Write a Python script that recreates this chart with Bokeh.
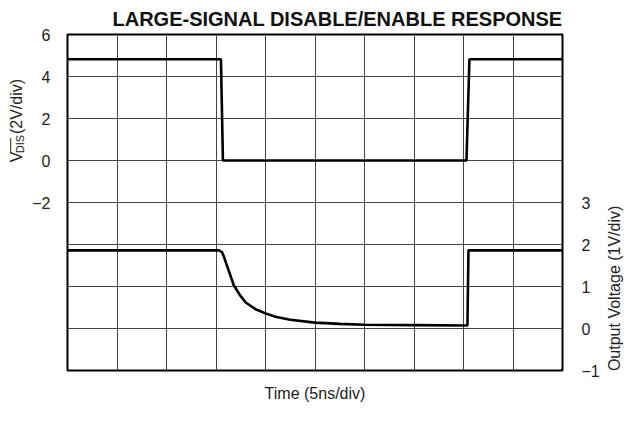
import math
from bokeh.plotting import figure
from bokeh.layouts import row
from bokeh.models import Range1d, LinearAxis, FixedTicker, Label, Arrow
from bokeh.embed import file_html
from bokeh.resources import INLINE

# ---- texts ----
title_text = "LARGE-SIGNAL DISABLE/ENABLE RESPONSE"
x_title = "Time (5ns/div)"
left_title_main = "V"
left_title_sub = "DIS"
left_title_rest = "(2V/div)"
right_title = "Output Voltage (1V/div)"

# ---- axes (time in ns, 5 ns/div, 10 divisions) ----
time_grid = [0, 5, 10, 15, 20, 25, 30, 35, 40, 45, 50]
left_grid = [-10, -8, -6, -4, -2, 0, 2, 4, 6]
left_ticks = [6, 4, 2, 0, -2]
right_ticks = [3, 2, 1, 0, -1]

# ---- data: disable signal (left axis, V) ----
dis_t = [0.0, 15.5, 15.7, 40.3, 40.6, 50.0]
dis_v = [4.82, 4.82, 0.0, 0.0, 4.82, 4.82]

# ---- data: output voltage (right axis, V) ----
out_t = [0.0, 15.3, 15.6, 15.8, 16.0, 16.4, 16.8, 17.4, 18.0, 19.0, 20.0,
         21.0, 22.5, 25.0, 27.5, 30.0, 35.0, 40.4, 40.5, 50.0]
out_v = [1.86, 1.86, 1.82, 1.71, 1.57, 1.30, 1.03, 0.80, 0.62, 0.46, 0.36,
         0.28, 0.21, 0.14, 0.11, 0.09, 0.08, 0.07, 1.86, 1.86]

FONT = "Liberation Sans"
TXT = "#222222"
H = 405
LEFT_W, RIGHT_W = 27, 23
MAIN_W = 625 - LEFT_W - RIGHT_W

p = figure(width=MAIN_W, height=H, x_range=Range1d(0, 50), y_range=Range1d(-10, 6),
           output_backend="svg", toolbar_location=None,
           min_border_left=40, min_border_right=MAIN_W - 40 - 495,
           min_border_top=34, min_border_bottom=35)
p.extra_y_ranges = {"out": Range1d(-1, 7)}

p.title.text = title_text
p.title.align = "left"
p.title.offset = 45
p.title.standoff = 9
p.title.text_font = FONT
p.title.text_font_size = "20px"
p.title.text_font_style = "bold"
p.title.text_color = "#111111"

p.outline_line_color = "black"
p.outline_line_width = 2
p.outline_line_alpha = 1
p.background_fill_color = "white"
p.border_fill_color = "white"

xa = p.xaxis[0]
xa.ticker = FixedTicker(ticks=[])
xa.axis_line_color = None
xa.major_tick_line_color = None
xa.minor_tick_line_color = None
xa.major_tick_out = 0
xa.major_label_standoff = 0
xa.axis_label = x_title
xa.axis_label_standoff = 14
xa.axis_label_text_font = FONT
xa.axis_label_text_font_size = "16px"
xa.axis_label_text_font_style = "normal"
xa.axis_label_text_color = TXT

p.xgrid.ticker = FixedTicker(ticks=time_grid)
p.ygrid.ticker = FixedTicker(ticks=left_grid)
for g in (p.xgrid, p.ygrid):
    g.grid_line_color = "#444444"
    g.grid_line_width = 1
    g.grid_line_alpha = 1

def style_axis(ax, ticks, standoff):
    ax.ticker = FixedTicker(ticks=ticks)
    ax.major_label_overrides = {t: ("\u2212" + str(abs(t)) if t < 0 else str(t)) for t in ticks}
    ax.axis_line_color = None
    ax.major_tick_line_color = None
    ax.minor_tick_line_color = None
    ax.major_tick_out = 0
    ax.major_tick_in = 0
    ax.major_label_standoff = standoff
    ax.major_label_text_font = FONT
    ax.major_label_text_font_size = "16px"
    ax.major_label_text_color = TXT

style_axis(p.yaxis[0], left_ticks, 17)
rax = LinearAxis(y_range_name="out")
style_axis(rax, right_ticks, 19)
p.add_layout(rax, "right")

p.line(dis_t, dis_v, line_color="black", line_width=2.6)
p.line(out_t, out_v, y_range_name="out", line_color="black", line_width=2.6)

# ---- side strips for the rotated axis titles (pixel coordinates, y up) ----
def strip(w):
    s = figure(width=w, height=H, x_range=Range1d(0, w), y_range=Range1d(0, H),
               x_axis_type=None, y_axis_type=None, output_backend="svg",
               toolbar_location=None, min_border=0)
    s.outline_line_color = None
    s.grid.visible = False
    s.background_fill_color = "white"
    s.border_fill_color = "white"
    return s

ls = strip(LEFT_W)
base = 16      # baseline position of "V"
y0 = H - 154   # bottom end of the title
ls.add_layout(Label(x=base, y=y0, text=left_title_main, text_font=FONT, text_font_size="16px",
                    text_color=TXT, angle=math.pi / 2, text_align="left",
                    text_baseline="alphabetic"))
ls.add_layout(Label(x=base + 3.5, y=y0 + 10.8, text=left_title_sub, text_font=FONT,
                    text_font_size="11px", text_color=TXT, angle=math.pi / 2,
                    text_align="left", text_baseline="alphabetic"))
ls.add_layout(Arrow(x_start=base - 5.8, y_start=y0 + 11.2, x_end=base - 5.8, y_end=y0 + 29.2,
                    start=None, end=None, line_color=TXT, line_width=1))
ls.add_layout(Label(x=base, y=y0 + 34.0, text=left_title_rest, text_font=FONT,
                    text_font_size="16px", text_color=TXT, angle=math.pi / 2,
                    text_align="left", text_baseline="alphabetic"))

rs = strip(RIGHT_W)
rs.add_layout(Label(x=12, y=H - 306, text=right_title, text_font=FONT, text_font_size="16px",
                    text_color=TXT, angle=math.pi / 2, text_align="center",
                    text_baseline="middle"))

layout = row(ls, p, rs, spacing=0)
open("out.html", "w").write(file_html(layout, INLINE))
